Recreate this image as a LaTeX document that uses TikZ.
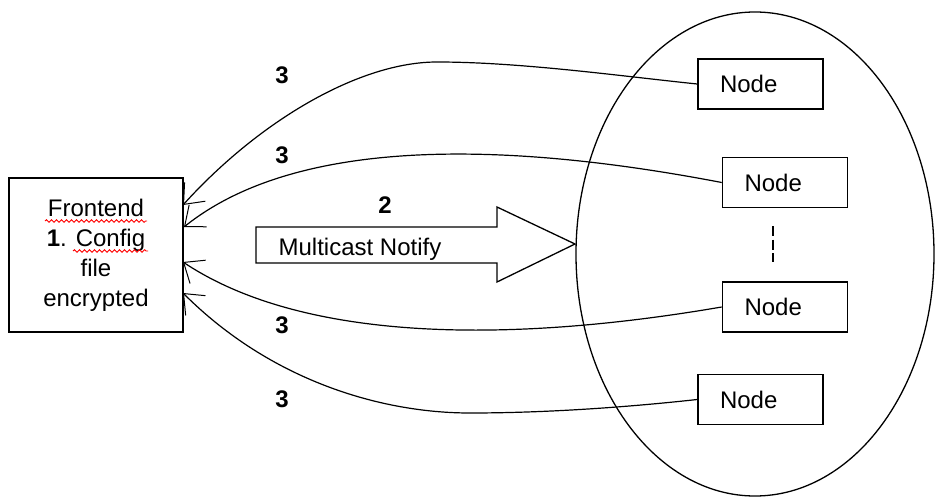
\documentclass[tikz,border=0pt]{standalone}
\usepackage{fontspec}
\setmainfont{Liberation Sans}
\usetikzlibrary{arrows.meta,decorations.pathmorphing}
\begin{document}
\begin{tikzpicture}[x=1pt,y=-1pt, line width=1.3pt,
  every node/.style={font=\fontsize{24}{30}\selectfont},
  nodebox/.style={draw, line width=1.6pt, text width=81pt, inner xsep=22pt, inner ysep=0pt, minimum height=50pt, align=left},
  fbox/.style={draw, line width=1.6pt, minimum width=174pt, minimum height=154pt, align=center, inner sep=0pt},
  reply/.style={-{Straight Barb[length=17pt,width=28pt,line width=1pt]}, line width=1.2pt},
  lbl/.style={font=\fontsize{24}{28}\selectfont\bfseries, inner sep=0pt},
  wavy/.style={red, line width=0.9pt, decorate, decoration={snake, amplitude=1.3pt, segment length=5pt}}]

\fill[white] (0,0) rectangle (935,500);
\useasboundingbox (0,0) rectangle (935,500);

% cluster ellipse
\draw[line width=1.3pt] (755,254) ellipse [x radius=179pt, y radius=242pt];

% nodes
\node[nodebox] (n1) at (760.5,84) {Node};
\node[nodebox] (n2) at (785,182.5) {Node};
\node[nodebox] (n3) at (785,307) {Node};
\node[nodebox] (n4) at (760.5,399.5) {Node};

% dots between nodes
\coordinate (d1) at (773,226);
\coordinate (d2) at (773,262);
\draw[line width=1.5pt, dash pattern=on 10pt off 3.5pt] (d1) -- (d2);

% frontend
\node[fbox] (fe) at (96,255) {Frontend\\\textbf{1}. Config\\file\\encrypted};
\draw[wavy] (45,221) -- (147,221);
\draw[wavy] (73,251) -- (148,251);

\coordinate (f1) at (183,205);
\coordinate (f2) at (184,227);
\coordinate (f3) at (183,262);
\coordinate (f4) at (183,293);

% multicast block arrow
\draw[line width=1.3pt] (256,227) -- (497,227) -- (497,207) -- (575,244) -- (497,282) -- (497,263) -- (256,263) -- cycle;
\node[anchor=base west, inner sep=0pt] (mn) at (278,255) {Multicast Notify};
\node[lbl] (l2) at (385,205) {2};

% replies
\draw[reply] (n1.west) .. controls (620,76) and (520,62) .. (437,62) .. controls (360,62) and (260,120) .. (f1);
\draw[reply] (n2.west) .. controls (500,140) and (295,138) .. (f2);
\draw[reply] (n3.west) .. controls (500,345) and (300,340) .. (f3);
\draw[reply] (n4.west) .. controls (620,408) and (540,413) .. (470,413) .. controls (380,413) and (270,380) .. (f4);

\node[lbl] (l3a) at (282,75) {3};
\node[lbl] (l3b) at (282,155) {3};
\node[lbl] (l3c) at (282,325) {3};
\node[lbl] (l3d) at (282,399) {3};
\end{tikzpicture}
\end{document}
